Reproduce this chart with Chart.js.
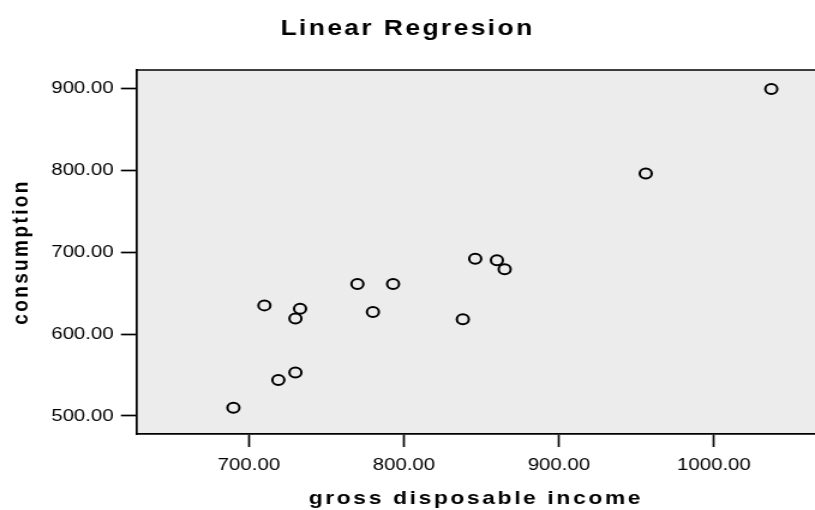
<!DOCTYPE html>
<html>
<head>
<meta charset="utf-8">
<script src="https://cdn.jsdelivr.net/npm/chart.js@4/dist/chart.umd.min.js"></script>
<style>
html,body{margin:0;padding:0;background:#fff;overflow:hidden}
#c{display:block}
</style>
</head>
<body>
<canvas id="c" width="679" height="510" style="width:815px;height:510px"></canvas>
<script>
// ---- data ----
const income      = [690, 719, 730, 710, 733, 730, 770, 793, 780, 846, 860, 865, 838, 1037, 956];
const consumption = [510, 544, 553, 635, 631, 619, 661, 661, 627, 692, 690, 679, 618, 899, 796];
const xTickValues = [700, 800, 900, 1000];
const yTickValues = [500, 600, 700, 800, 900];
const chartTitle  = 'Linear Regresion';
const xAxisTitle  = 'gross disposable income';
const yAxisTitle  = 'consumption';
const xRange = [627.7, 1065.2];
const yRange = [478, 922.3];

const FONT = "'Liberation Sans', Arial, sans-serif";

const points = income.map((x, i) => ({ x: x, y: consumption[i] }));

// plot background and top frame line
const plotFrame = {
  id: 'plotFrame',
  beforeDraw(chart) {
    const { ctx, chartArea: a } = chart;
    ctx.save();
    ctx.fillStyle = '#ececec';
    ctx.fillRect(a.left, a.top, a.right - a.left, a.bottom - a.top);
    ctx.strokeStyle = '#000';
    ctx.lineWidth = 1.7;
    ctx.beginPath();
    ctx.moveTo(a.left, a.top);
    ctx.lineTo(a.right, a.top);
    ctx.stroke();
    ctx.restore();
  }
};

// wider letter spacing for the titles (the reference type is wide)
function withSpacing(obj, method, sp) {
  if (!obj || obj['_sp_' + method]) return;
  const d = obj[method];
  obj[method] = function () {
    const c = this.ctx; c.save(); c.letterSpacing = sp;
    const r = d.apply(this, arguments); c.restore(); return r;
  };
  obj['_sp_' + method] = true;
}
const spacing = {
  id: 'spacing',
  afterLayout(chart) {
    withSpacing(chart.titleBlock, 'draw', '2px');
    withSpacing(chart.scales.x, 'drawTitle', '2.2px');
    withSpacing(chart.scales.y, 'drawTitle', '2.4px');
  }
};

new Chart(document.getElementById('c'), {
  type: 'scatter',
  data: {
    datasets: [{
      data: points,
      pointStyle: 'circle',
      pointRadius: 5,
      pointHoverRadius: 5,
      pointBorderWidth: 2,
      borderColor: '#000',
      backgroundColor: 'rgba(0,0,0,0)',
      showLine: false,
      clip: false
    }]
  },
  options: {
    responsive: false,
    animation: false,
    devicePixelRatio: 1,
    layout: { padding: 0, autoPadding: false },
    events: [],
    plugins: {
      legend: { display: false },
      tooltip: { enabled: false },
      title: {
        display: true,
        text: chartTitle,
        color: '#000',
        font: { family: FONT, size: 22, weight: 'bold', lineHeight: 1.2 },
        padding: { top: 16, bottom: 27.6 }
      }
    },
    scales: {
      x: {
        type: 'linear',
        min: xRange[0],
        max: xRange[1],
        afterBuildTicks: s => { s.ticks = xTickValues.map(v => ({ value: v })); },
        afterFit: s => { s.height = 76; },
        ticks: {
          callback: v => Number(v).toFixed(2),
          color: '#000',
          font: { family: FONT, size: 17 },
          padding: 8,
          maxRotation: 0,
          autoSkip: false,
          includeBounds: false
        },
        grid: { drawOnChartArea: false, drawTicks: true, tickLength: 13, tickWidth: 1.7, tickColor: '#000' },
        border: { display: true, color: '#000', width: 1.7 },
        title: {
          display: true,
          text: xAxisTitle,
          color: '#000',
          font: { family: FONT, size: 19, weight: 'bold', lineHeight: 1.2 },
          padding: { top: 0, bottom: 0 }
        }
      },
      y: {
        type: 'linear',
        min: yRange[0],
        max: yRange[1],
        afterBuildTicks: s => { s.ticks = yTickValues.map(v => ({ value: v })); },
        afterFit: s => { s.width = 114; },
        ticks: {
          callback: v => Number(v).toFixed(2),
          color: '#000',
          font: { family: FONT, size: 17 },
          padding: 6,
          autoSkip: false,
          includeBounds: false
        },
        grid: { drawOnChartArea: false, drawTicks: true, tickLength: 13.3, tickWidth: 1.7, tickColor: '#000' },
        border: { display: true, color: '#000', width: 1.7 },
        title: {
          display: true,
          text: yAxisTitle,
          color: '#000',
          font: { family: FONT, size: 19, weight: 'bold', lineHeight: 1.2 },
          padding: { top: 6, bottom: 0 }
        }
      }
    }
  },
  plugins: [plotFrame, spacing]
});
</script>
</body>
</html>
